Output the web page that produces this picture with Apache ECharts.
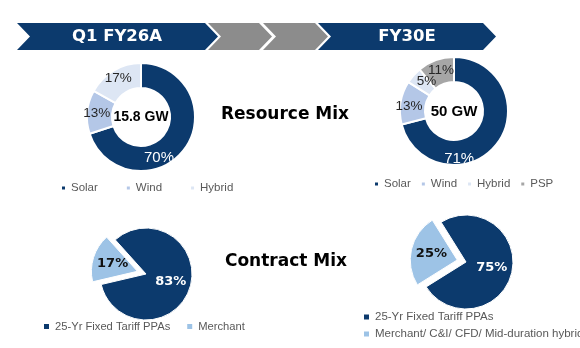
<!DOCTYPE html>
<html>
<head>
<meta charset="utf-8">
<script src="https://cdn.jsdelivr.net/npm/echarts@6/dist/echarts.min.js"></script>
<style>
  html, body { margin: 0; padding: 0; background: #ffffff; }
  #chart { width: 580px; height: 348px; }
</style>
</head>
<body>
<div id="chart"></div>
<script>
// Period headers and section titles
const periodLabels = ['Q1 FY26A', 'FY30E'];
const sectionTitles = ['Resource Mix', 'Contract Mix'];
const capacityLabels = ['15.8 GW', '50 GW'];

// Resource mix (% of capacity)
const resourceNames = ['Solar', 'Wind', 'Hybrid', 'PSP'];
const fy26Resource = [70, 13, 17];
const fy30Resource = [71, 13, 5, 11];

// Contract mix (% of capacity)
const contractNamesFy26 = ['25-Yr Fixed Tariff PPAs', 'Merchant'];
const contractNamesFy30 = ['25-Yr Fixed Tariff PPAs', 'Merchant/ C&I/ CFD/ Mid-duration hybrid'];
const fy26Contract = [83, 17];
const fy30Contract = [75, 25];

const NAVY = '#0c3a6d';
const resourceColors = ['#0c3a6d', '#b4c7e7', '#dde6f4', '#a6a6a6'];
const contractColors = ['#0c3a6d', '#9dc3e6'];
const LEGEND_TEXT = '#595959';
const BODY_FONT = '"Liberation Sans", Arial, sans-serif';
const HEAD_FONT = '"DejaVu Sans", Verdana, sans-serif';

// Small nudges for the donut labels sitting on the large slice
const donutNudgeFy26 = [[-18, 15], [0, 0], [0, 0]];
const donutNudgeFy30 = [[-30, 21], [-1, 2], [6, 0], [2, 1]];

function donutSeries(values, center, nudge) {
  return {
    type: 'pie',
    center: center,
    radius: [29, 54],
    startAngle: 90,
    clockwise: true,
    silent: true,
    itemStyle: { borderColor: '#ffffff', borderWidth: 2 },
    label: {
      show: true,
      position: 'inside',
      formatter: '{c}%',
      fontFamily: BODY_FONT,
      fontSize: 13.5,
      color: '#262626'
    },
    labelLine: { show: false },
    labelLayout: function (p) {
      const n = nudge[p.dataIndex] || [0, 0];
      return { dx: n[0], dy: n[1] };
    },
    data: values.map(function (v, i) {
      const item = { name: resourceNames[i], value: v, itemStyle: { color: resourceColors[i] } };
      if (i === 0) item.label = { color: '#ffffff', fontSize: 15 };
      return item;
    })
  };
}

function contractSeries(values, names, center, radius, startAngle) {
  return {
    type: 'pie',
    center: center,
    radius: radius,
    startAngle: startAngle,
    clockwise: true,
    selectedMode: 'single',
    selectedOffset: 9,
    itemStyle: { borderColor: '#ffffff', borderWidth: 1 },
    label: {
      show: true,
      position: 'inside',
      formatter: '{c}%',
      fontFamily: HEAD_FONT,
      fontWeight: 'bold',
      fontSize: 13
    },
    labelLine: { show: false },
    data: values.map(function (v, i) {
      return {
        name: names[i],
        value: v,
        selected: i === 1,
        itemStyle: { color: contractColors[i] },
        label: { color: i === 0 ? '#ffffff' : '#111111' }
      };
    })
  };
}

function chevron(x0, x1, color) {
  const top = 23, bot = 50, mid = 36.5, tip = 13;
  return {
    type: 'polygon',
    silent: true,
    shape: { points: [[x0, top], [x1, top], [x1 + tip, mid], [x1, bot], [x0, bot], [x0 + tip, mid]] },
    style: { fill: color }
  };
}

function headText(x, y, text, size, color) {
  return {
    type: 'text',
    silent: true,
    x: x, y: y,
    style: {
      text: text,
      fill: color,
      font: 'bold ' + size + 'px ' + HEAD_FONT,
      align: 'center',
      verticalAlign: 'middle'
    }
  };
}

const legendBase = {
  icon: 'rect',
  orient: 'horizontal',
  selectedMode: false,
  width: 300,
  textStyle: { color: LEGEND_TEXT, fontFamily: BODY_FONT, fontSize: 11.5 },
  padding: 0
};

const option = {
  animation: false,
  backgroundColor: '#ffffff',
  graphic: [
    chevron(17, 205, NAVY),
    chevron(208, 259, '#8c8c8c'),
    chevron(263, 315, '#8c8c8c'),
    chevron(318, 483, NAVY),
    headText(117, 37, periodLabels[0], 16.5, '#ffffff'),
    headText(407, 37, periodLabels[1], 16.5, '#ffffff'),
    headText(285, 115, sectionTitles[0], 17, '#000000'),
    headText(286, 262, sectionTitles[1], 17, '#000000'),
    {
      type: 'text', silent: true, x: 141, y: 117,
      style: { text: capacityLabels[0], fill: '#000000', font: 'bold 14px ' + BODY_FONT, align: 'center', verticalAlign: 'middle' }
    },
    {
      type: 'text', silent: true, x: 454, y: 112,
      style: { text: capacityLabels[1], fill: '#000000', font: 'bold 15px ' + BODY_FONT, align: 'center', verticalAlign: 'middle' }
    }
  ],
  legend: [
    Object.assign({}, legendBase, {
      left: 60, top: 182, itemWidth: 5, itemHeight: 5, itemGap: 27,
      data: resourceNames.slice(0, 3)
    }),
    Object.assign({}, legendBase, {
      left: 373, top: 178, itemWidth: 5, itemHeight: 5, itemGap: 9,
      data: resourceNames.slice(0, 4)
    }),
    Object.assign({}, legendBase, {
      left: 42, top: 321, itemWidth: 7, itemHeight: 7, itemGap: 15,
      textStyle: { color: LEGEND_TEXT, fontFamily: BODY_FONT, fontSize: 11.2 },
      data: contractNamesFy26
    }),
    Object.assign({}, legendBase, {
      left: 362, top: 311, orient: 'vertical', itemWidth: 7, itemHeight: 7, itemGap: 5,
      textStyle: { color: LEGEND_TEXT, fontFamily: BODY_FONT, fontSize: 11.5 },
      data: contractNamesFy30
    })
  ],
  series: [
    donutSeries(fy26Resource, [141, 117], donutNudgeFy26),
    donutSeries(fy30Resource, [454, 111], donutNudgeFy30),
    contractSeries(fy26Contract, contractNamesFy26, [146, 274], 46, 132),
    contractSeries(fy30Contract, contractNamesFy30, [466, 262], 47, 122)
  ]
};

const chart = echarts.init(document.getElementById('chart'), null, { renderer: 'canvas' });
chart.setOption(option);
</script>
</body>
</html>
